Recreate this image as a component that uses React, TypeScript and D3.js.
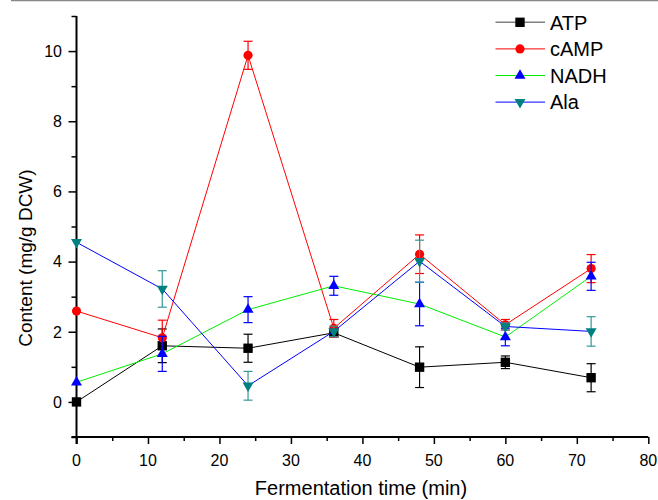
import React, { useEffect, useRef } from "react";
import * as d3 from "d3";

const times = [0, 12, 24, 36, 48, 60, 72];

const atp = [0, 1.6, 1.53, 1.97, 0.99, 1.13, 0.69];
const atpErr = [0, 0.48, 0.4, 0.1, 0.58, 0.18, 0.4];

const camp = [2.59, 1.83, 9.88, 2.1, 4.21, 2.2, 3.8];
const campErr = [0, 0.5, 0.4, 0.25, 0.55, 0.15, 0.4];

const nadh = [0.56, 1.37, 2.63, 3.31, 2.79, 1.85, 3.58];
const nadhErr = [0, 0.5, 0.37, 0.27, 0.62, 0.25, 0.4];

const ala = [4.55, 3.22, 0.46, 2.01, 4.01, 2.15, 2.01];
const alaErr = [0, 0.52, 0.41, 0.15, 0.6, 0.1, 0.42];

const xTicks = [0, 10, 20, 30, 40, 50, 60, 70, 80];
const yTicks = [0, 2, 4, 6, 8, 10];

const series = [
  { name: "ATP", values: atp, errs: atpErr, line: "#000000", legendLine: "#808080", fill: "#000000", err: "#000000", shape: "square" },
  { name: "cAMP", values: camp, errs: campErr, line: "#ff0000", legendLine: "#ff0000", fill: "#ff0000", err: "#ff0000", shape: "circle" },
  { name: "NADH", values: nadh, errs: nadhErr, line: "#00ee00", legendLine: "#00ee00", fill: "#0000ff", err: "#0000ff", shape: "up" },
  { name: "Ala", values: ala, errs: alaErr, line: "#0000ff", legendLine: "#0000ff", fill: "#008080", err: "#339999", shape: "down" },
];

const font = "'Liberation Sans', Arial, sans-serif";

const App = () => {
  const svgRef = useRef<SVGSVGElement>(null);

  useEffect(() => {
    const width = 658;
    const height = 500;
    const svg = d3.select(svgRef.current);
    svg.selectAll("*").remove();
    svg.attr("width", width).attr("height", height);

    // top border line
    svg.append("line").attr("x1", 11).attr("x2", width).attr("y1", 0.5).attr("y2", 0.5)
      .attr("stroke", "#888").attr("stroke-width", 1.5);

    const x = d3.scaleLinear().domain([0, 80]).range([76.5, 648.3]);
    const y = d3.scaleLinear().domain([-1, 11]).range([437, 16]);

    // axes
    const xAxis = svg.append("g").attr("transform", `translate(0,${y(-1)})`);
    xAxis.call(
      d3.axisBottom(x).tickValues(d3.range(0, 81, 5)).tickSize(5).tickFormat(() => "")
    );
    xAxis.selectAll(".tick line").attr("stroke-width", 1.5)
      .attr("y2", (d: any) => (d % 10 === 0 ? 7 : 4));
    xAxis.select(".domain").attr("stroke-width", 2).attr("d", `M${x(0) - 5},0H${x(80)}`);
    xAxis.selectAll(".tick text").remove();
    xAxis.selectAll(".lbl").data(xTicks).enter().append("text")
      .attr("x", (d) => x(d)).attr("y", 29).attr("text-anchor", "middle")
      .attr("font-family", font).attr("font-size", 16).attr("fill", "#000").text((d) => d);

    const yAxis = svg.append("g").attr("transform", `translate(${x(0)},0)`);
    yAxis.call(d3.axisLeft(y).tickValues(d3.range(-1, 12, 1)).tickSize(5).tickFormat(() => ""));
    yAxis.selectAll(".tick line").attr("stroke-width", 1.5)
      .attr("x2", (d: any) => (d % 2 === 0 ? -8 : -5));
    yAxis.select(".domain").attr("stroke-width", 2).attr("d", `M0,${y(-1) + 7}V${y(11)}`);
    yAxis.selectAll(".lbl").data(yTicks).enter().append("text")
      .attr("x", -14.5).attr("y", (d) => y(d)).attr("dy", "0.36em").attr("text-anchor", "end")
      .attr("font-family", font).attr("font-size", 16).attr("fill", "#000").text((d) => d);

    // axis titles
    svg.append("text").attr("x", 361).attr("y", 495).attr("text-anchor", "middle")
      .attr("font-family", font).attr("font-size", 20).text("Fermentation time (min)");
    svg.append("text").attr("transform", `translate(32,${y(4.1)}) rotate(-90)`)
      .attr("text-anchor", "middle").attr("font-family", font).attr("font-size", 19)
      .text("Content (mg/g DCW)");

    const symbolFor = (shape: string) => {
      if (shape === "square") return d3.symbol().type(d3.symbolSquare).size(88)();
      if (shape === "circle") return d3.symbol().type(d3.symbolCircle).size(66)();
      return d3.symbol().type(d3.symbolTriangle).size(52)();
    };
    const place = (shape: string, cx: number, cy: number) =>
      `translate(${cx},${cy})${shape === "down" ? " rotate(180)" : ""}`;

    const plot = svg.append("g");
    series.forEach((s) => {
      const pts = times.map((t, i) => ({ t, v: s.values[i], e: s.errs[i] }));
      const line = d3.line<any>().x((d) => x(d.t)).y((d) => y(d.v));
      plot.append("path").datum(pts).attr("fill", "none").attr("stroke", s.line)
        .attr("stroke-width", 1).attr("d", line);

      const eb = plot.append("g").attr("stroke", s.err).attr("stroke-width", 1.2);
      pts.filter((d) => d.e > 0).forEach((d) => {
        eb.append("line").attr("x1", x(d.t)).attr("x2", x(d.t)).attr("y1", y(d.v - d.e)).attr("y2", y(d.v + d.e));
        [d.v - d.e, d.v + d.e].forEach((c) => {
          eb.append("line").attr("x1", x(d.t) - 4.5).attr("x2", x(d.t) + 4.5).attr("y1", y(c)).attr("y2", y(c));
        });
      });

      plot.append("g").selectAll("path").data(pts).enter().append("path")
        .attr("d", symbolFor(s.shape))
        .attr("transform", (d) => place(s.shape, x(d.t), y(d.v)))
        .attr("fill", s.fill);
    });

    // legend
    const legend = svg.append("g");
    series.forEach((s, i) => {
      const yy = 22.3 + i * 26.6;
      legend.append("line").attr("x1", 495.5).attr("x2", 545).attr("y1", yy).attr("y2", yy)
        .attr("stroke", s.legendLine).attr("stroke-width", s.name === "ATP" ? 1.5 : 1);
      legend.append("path").attr("d", symbolFor(s.shape))
        .attr("transform", place(s.shape, 520, yy))
        .attr("fill", s.fill);
      legend.append("text").attr("x", 550).attr("y", yy).attr("dy", "0.36em")
        .attr("font-family", font).attr("font-size", 20).text(s.name);
    });
  }, []);

  return (
    <>
      <style>{`body{margin:0}`}</style>
      <svg ref={svgRef} style={{ display: "block" }}></svg>
    </>
  );
};

export default App;
